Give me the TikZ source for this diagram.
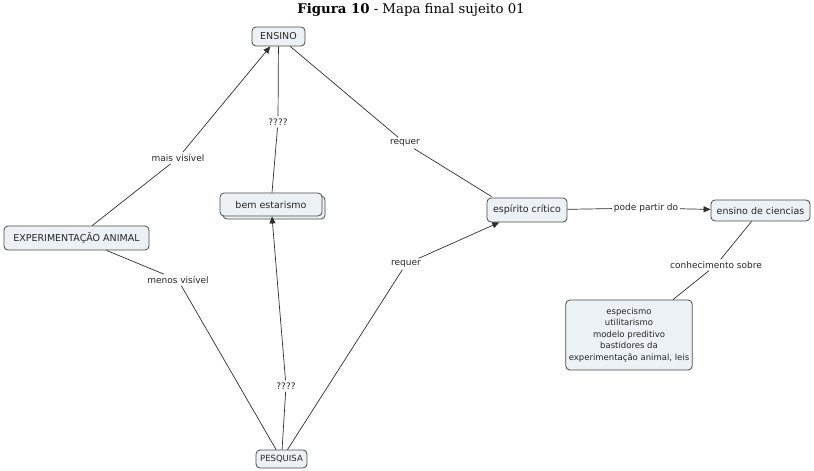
\documentclass[tikz,border=0pt]{standalone}
\usepackage{fontspec}
\setmainfont{DejaVu Serif}
\newfontfamily\mapfont{DejaVu Sans}
\usetikzlibrary{arrows.meta}
\definecolor{boxfill}{HTML}{EBF1F4}
\definecolor{boxline}{HTML}{4A4A4A}
\definecolor{linkcol}{HTML}{2E2E2E}
\tikzset{
  concept/.style={draw=boxline, fill=boxfill, rounded corners=4pt, line width=0.8pt,
    font=\mapfont\fontsize{9.5}{11}\selectfont, text=black!85, inner xsep=3pt, inner ysep=3pt},
  linklabel/.style={font=\mapfont\fontsize{9}{11}\selectfont, text=black!85, inner sep=2pt},
  link/.style={draw=linkcol, line width=0.7pt},
  arrowlink/.style={link, -{Triangle[length=7pt,width=6pt]}}
}
\begin{document}
\begin{tikzpicture}[x=1pt,y=-1pt]
\useasboundingbox (0,0) rectangle (814,471);

% title
\node (title) at (411,10) {\fontsize{13.3}{15}\selectfont\textbf{Figura 10} - Mapa final sujeito 01};

% concepts
\node[concept, minimum width=53pt, minimum height=19pt] (ensino) at (278.5,36.5) {ENSINO};
\node[concept, minimum width=102pt, minimum height=23pt] (bemshadow) at (274,207.5) {};
\node[concept, minimum width=102pt, minimum height=23pt] (bem) at (271,204.5) {bem estarismo};
\node[concept, minimum width=145pt, minimum height=24pt] (exp) at (76.5,238) {EXPERIMENTAÇÃO ANIMAL};
\node[concept, minimum width=80pt, minimum height=24pt] (esp) at (527,210) {espírito crítico};
\node[concept, minimum width=99pt, minimum height=21pt] (edc) at (760.5,210.5) {ensino de ciencias};
\node[concept, align=center, minimum width=124pt, minimum height=70pt,
      font=\mapfont\fontsize{8.5}{11.5}\selectfont] (conteudo) at (629,335)
  {especismo\\utilitarismo\\modelo preditivo\\bastidores da\\experimentação animal, leis};
\node[concept, minimum width=51pt, minimum height=18pt,
      font=\mapfont\fontsize{8.5}{10}\selectfont] (pesq) at (281.5,459) {PESQUISA};

% link labels
\node[linklabel] (mais) at (178,158) {mais visível};
\node[linklabel] (menos) at (178,280) {menos visível};
\node[linklabel] (q1) at (278,122) {????};
\node[linklabel] (q2) at (286,386) {????};
\node[linklabel] (req1) at (405,143) {requer};
\node[linklabel] (req2) at (406,264) {requer};
\node[linklabel] (pode) at (646,208) {pode partir do};
\node[linklabel] (conh) at (716,265) {conhecimento sobre};

% links
\draw[link] (exp) -- (mais);
\draw[arrowlink] (mais) -- (ensino);
\draw[link] (exp) -- (menos);
\draw[link] (menos) -- (pesq);
\draw[link] (ensino) -- (q1);
\draw[link] (q1) -- (bem);
\draw[link] (pesq) -- (q2);
\draw[arrowlink] (q2) -- (bem);
\draw[link] (ensino) -- (req1);
\draw[link] (req1) -- ([xshift=5pt,yshift=1pt]esp.north west);
\draw[link] (pesq) -- (req2);
\draw[arrowlink] (req2) -- (esp);
\draw[link] (esp) -- (pode);
\draw[arrowlink] (pode) -- (edc);
\draw[link] (edc) -- (conh);
\draw[link] (conh) -- (conteudo);
\end{tikzpicture}
\end{document}
